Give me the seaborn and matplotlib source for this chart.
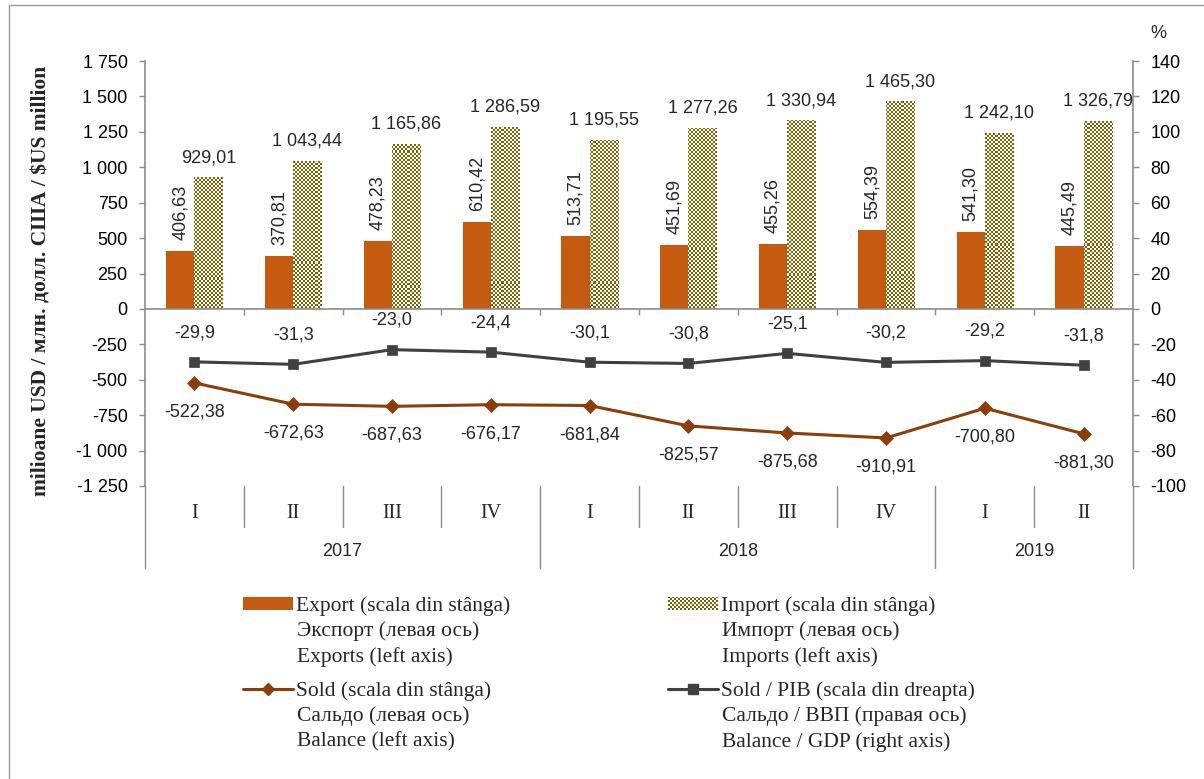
import numpy as np
import pandas as pd
import matplotlib
matplotlib.use("Agg")
import matplotlib.pyplot as plt
import seaborn as sns
from matplotlib.patches import Patch
from matplotlib.lines import Line2D
from matplotlib.colors import to_rgb

# ---------------- data ----------------
years = ["2017", "2017", "2017", "2017", "2018", "2018", "2018", "2018", "2019", "2019"]
quarters = ["I", "II", "III", "IV", "I", "II", "III", "IV", "I", "II"]
export = [406.63, 370.81, 478.23, 610.42, 513.71, 451.69, 455.26, 554.39, 541.30, 445.49]
imports = [929.01, 1043.44, 1165.86, 1286.59, 1195.55, 1277.26, 1330.94, 1465.30, 1242.10, 1326.79]
sold = [-522.38, -672.63, -687.63, -676.17, -681.84, -825.57, -875.68, -910.91, -700.80, -881.30]
sold_pib = [-29.9, -31.3, -23.0, -24.4, -30.1, -30.8, -25.1, -30.2, -29.2, -31.8]
left_ticks = [-1250, -1000, -750, -500, -250, 0, 250, 500, 750, 1000, 1250, 1500, 1750]
right_ticks = [-100, -80, -60, -40, -20, 0, 20, 40, 60, 80, 100, 120, 140]
year_groups = ["2017", "2018", "2019"]

ylabel = "milioane USD / млн. долл. США / $US million"
legend_lines = {
    "Export": ["Export (scala din stânga)", "Экспорт (левая ось)", "Exports (left axis)"],
    "Import": ["Import (scala din stânga)", "Импорт (левая ось)", "Imports (left axis)"],
    "Sold": ["Sold (scala din stânga)", "Сальдо (левая ось)", "Balance (left axis)"],
    "PIB": ["Sold / PIB (scala din dreapta)", "Сальдо / ВВП (правая ось)", "Balance / GDP (right axis)"],
}

# ---------------- style ----------------
EXP = "#C55A11"
OLIVE = "#806000"
SOLD_C = "#8B3E0A"
PIB_C = "#404040"
AXC = "#8C8C8C"
SANS = ["Liberation Sans", "DejaVu Sans"]
SERIF = ["Liberation Serif", "DejaVu Serif"]
FS = 13
LFS = 15.5

sns.set_style("white")
plt.rcParams["font.family"] = SANS


def fmt(v, dec=2):
    s = f"{abs(v):,.{dec}f}".replace(",", " ").replace(".", ",")
    return ("-" if v < 0 else "") + s


W, H = 1204, 779
fig = plt.figure(figsize=(W / 100, H / 100), dpi=100)
L, R, T, B = 145, 1133, 61, 486
ax = fig.add_axes([L / W, 1 - B / H, (R - L) / W, (B - T) / H])

keys = [f"{y} {q}" for y, q in zip(years, quarters)]
df = pd.DataFrame({
    "key": keys * 2,
    "series": ["Export"] * len(keys) + ["Import"] * len(keys),
    "value": export + imports,
})

sns.barplot(data=df, x="key", y="value", hue="series", order=keys,
            hue_order=["Export", "Import"],
            palette={"Export": EXP, "Import": OLIVE},
            width=0.57, gap=0, saturation=1, linewidth=0,
            legend=False, ax=ax)

# checkerboard texture for import bars
ax_w_px = (R - L)
ax_h_px = (B - T)
nc, nr = int(round(ax_w_px / 2)), int(round(ax_h_px / 2))
grid = np.add.outer(np.arange(nr), np.arange(nc)) % 2
checker = np.ones((nr, nc, 3))
checker[grid == 0] = to_rgb(OLIVE)

ax.set_xlim(-0.5, 9.5)
ax.set_ylim(left_ticks[0], left_ticks[-1])
for patch in ax.containers[1]:
    im = ax.imshow(checker, extent=(0, 1, 0, 1), transform=ax.transAxes,
                   interpolation="nearest", aspect="auto", zorder=1.5)
    im.set_clip_path(patch)

# Sold line (left axis)
sns.pointplot(x=keys, y=sold, order=keys, color=SOLD_C, marker="D",
              markersize=7, markeredgewidth=0.5, linewidth=2.2,
              errorbar=None, ax=ax)
sold_line = ax.lines[-1]

# labels on bars
ax.bar_label(ax.containers[0], labels=[fmt(v) for v in export], rotation=90,
             padding=8, fontsize=FS, family=SANS)
ax.bar_label(ax.containers[1], labels=[fmt(v) for v in imports],
             padding=8, fontsize=FS, family=SANS)

for (x, y), v in zip(sold_line.get_xydata(), sold):
    ax.annotate(fmt(v), (x, y), xytext=(0, -21), textcoords="offset points",
                ha="center", va="center", fontsize=FS, family=SANS)

# Sold / PIB (right axis)
ax2 = ax.twinx()
sns.pointplot(x=keys, y=sold_pib, order=keys, color=PIB_C, marker="s",
              markersize=7, markeredgewidth=0.5, linewidth=2.2,
              errorbar=None, ax=ax2)
pib_line = ax2.lines[-1]
for (x, y), v in zip(pib_line.get_xydata(), sold_pib):
    ax2.annotate(fmt(v, 1), (x, y), xytext=(0, 21), textcoords="offset points",
                 ha="center", va="center", fontsize=FS, family=SANS)

ax.set_xlim(-0.5, 9.5)
ax.set_ylim(left_ticks[0], left_ticks[-1])
ax2.set_ylim(right_ticks[0], right_ticks[-1])

# axes styling
ax.set_yticks(left_ticks)
ax.set_yticklabels([fmt(v, 0) for v in left_ticks], fontsize=FS, family=SANS)
ax2.set_yticks(right_ticks)
ax2.set_yticklabels([fmt(v, 0) for v in right_ticks], fontsize=FS, family=SANS)
ax.set_xticks(np.arange(0.5, 9.0, 1.0))
ax.set_xticklabels([])
ax.set_xlabel("")
ax.set_ylabel("")
ax2.set_ylabel("")
ax2.set_xlabel("")

for s in ["top", "right"]:
    ax.spines[s].set_visible(False)
ax.spines["bottom"].set_position(("data", 0))
for s in ["left", "bottom"]:
    ax.spines[s].set_color(AXC)
    ax.spines[s].set_linewidth(1.2)
for s in ["top", "left", "bottom"]:
    ax2.spines[s].set_visible(False)
ax2.spines["right"].set_color(AXC)
ax2.spines["right"].set_linewidth(1.2)

ax.tick_params(axis="y", direction="out", length=4.5, width=1, color=AXC,
               pad=8, left=True, labelcolor="black")
ax.tick_params(axis="x", direction="out", length=4.5, width=1, color=AXC,
               bottom=True)
ax2.tick_params(axis="y", direction="out", length=4.5, width=1, color=AXC,
                pad=8, right=True, labelcolor="black")

# category label grid below the plot
xt = ax.get_xaxis_transform()
q_bot = -(527 - B) / (B - T)
y_bot = -(568 - B) / (B - T)
year_bounds = [-0.5]
for i in range(1, len(years)):
    if years[i] != years[i - 1]:
        year_bounds.append(i - 0.5)
year_bounds.append(len(years) - 0.5)
for i in range(1, len(years)):
    if years[i] == years[i - 1]:
        ax.plot([i - 0.5, i - 0.5], [0, q_bot], transform=xt, color=AXC,
                lw=1, clip_on=False)
for xb in year_bounds:
    ax.plot([xb, xb], [0, y_bot], transform=xt, color=AXC, lw=1, clip_on=False)
for i, q in enumerate(quarters):
    ax.text(i, -(513 - B) / (B - T), q, transform=xt, ha="center", va="center",
            fontsize=FS + 1.5, family=SERIF)
for yr, a, b in zip(year_groups, year_bounds[:-1], year_bounds[1:]):
    ax.text((a + b) / 2, -(552 - B) / (B - T), yr, transform=xt, ha="center",
            va="center", fontsize=FS, family=SANS)

# axis titles
fig.text(42 / W, 1 - 281 / H, ylabel, rotation=90, ha="center", va="center",
         fontsize=15.5, fontweight="bold", family=SERIF)
fig.text(1158 / W, 1 - 33 / H, "%", ha="center", va="center", fontsize=FS,
         family=SANS)

# legend
handles = {
    "Export": Patch(facecolor=EXP, edgecolor="none"),
    "Import": Patch(facecolor="none", edgecolor="none"),
    "Sold": Line2D([], [], color=SOLD_C, lw=2.2, marker="D", markersize=6.5),
    "PIB": Line2D([], [], color=PIB_C, lw=2.2, marker="s", markersize=7),
}
pos = {"Export": (243, 606), "Import": (668, 606), "Sold": (243, 691), "PIB": (668, 691)}
fs_px = LFS * 100 / 72
legs = {}
for k, (px, py) in pos.items():
    leg = fig.legend(handles=[handles[k]], labels=[legend_lines[k][0]],
                     loc="center left", bbox_to_anchor=(px / W, 1 - py / H),
                     frameon=False, borderpad=0, borderaxespad=0,
                     handlelength=50 / fs_px, handleheight=12 / fs_px,
                     handletextpad=3 / fs_px,
                     prop={"family": SERIF, "size": LFS})
    legs[k] = leg
    tx = px + 54
    for j, line in enumerate(legend_lines[k][1:]):
        fig.text(tx / W, 1 - (py + 25.5 * (j + 1)) / H, line, ha="left",
                 va="center", fontsize=LFS, family=SERIF)

fig.canvas.draw()
sw = legs["Import"].get_patches()[0].get_window_extent()
lax = fig.add_axes([sw.x0 / W, sw.y0 / H, sw.width / W, sw.height / H])
lax.set_zorder(10)
nr2 = max(1, int(round(sw.height / 2)))
nc2 = max(1, int(round(sw.width / 2)))
g2 = np.add.outer(np.arange(nr2), np.arange(nc2)) % 2
ch2 = np.ones((nr2, nc2, 3))
ch2[g2 == 0] = to_rgb(OLIVE)
lax.imshow(ch2, interpolation="nearest", aspect="auto")
lax.axis("off")

# outer frame
fig.add_artist(Line2D([9 / W, 1], [1 - 5 / H, 1 - 5 / H], transform=fig.transFigure,
                      color="#9A9A9A", lw=1))
fig.add_artist(Line2D([9 / W, 9 / W], [0, 1 - 5 / H], transform=fig.transFigure,
                      color="#9A9A9A", lw=1))

fig.savefig("out.png", dpi=100)
